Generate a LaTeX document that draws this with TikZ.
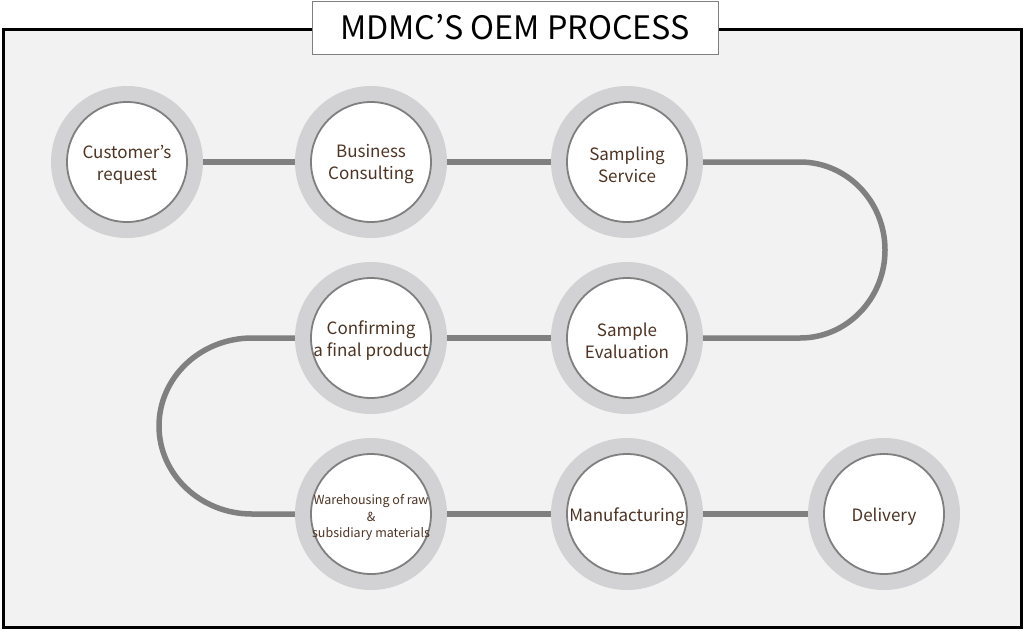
\documentclass[tikz,border=0pt]{standalone}
\usepackage{fontspec}
\setmainfont{Noto Sans CJK KR}
\begin{document}
\begin{tikzpicture}[x=1pt,y=-1pt,
  ring/.style={circle,minimum size=152pt,inner sep=0pt,fill=ringgray,draw=none},
  disc/.style={circle,minimum size=120pt,inner sep=0pt,fill=white,draw=discline,line width=1.8pt},
  lbl/.style={text=labelbrown,align=center,inner sep=0pt,yshift=-2.5pt,font=\fontsize{17}{22}\selectfont},
  smalllbl/.style={lbl,yshift=-1pt,font=\fontsize{12.5}{16.5}\selectfont},
  conn/.style={draw=connline,line width=5.5pt}]
\definecolor{ringgray}{HTML}{D2D2D4}
\definecolor{discline}{HTML}{7F7F7F}
\definecolor{connline}{HTML}{808080}
\definecolor{labelbrown}{HTML}{4E3424}
\definecolor{bg}{HTML}{F2F2F2}
\useasboundingbox (0,0) rectangle (1024,630);
\fill[white] (0,0) rectangle (1024,630);
\draw[fill=bg,line width=3pt] (3,29) rectangle (1021,627);
% rings
\node[ring] (r1) at (127,162) {};
\node[ring] (r2) at (371,162) {};
\node[ring] (r3) at (627,162) {};
\node[ring] (r4) at (627,338) {};
\node[ring] (r5) at (371,338) {};
\node[ring] (r6) at (371,514) {};
\node[ring] (r7) at (627,514) {};
\node[ring] (r8) at (884,514) {};
% discs
\foreach \i in {1,...,8} {\node[disc] (d\i) at (r\i) {};}
% labels
\node[lbl] (t1) at (r1) {Customer’s\\request};
\node[lbl] (t2) at (r2) {Business\\Consulting};
\node[lbl] (t3) at (r3) {Sampling\\Service};
\node[lbl] (t4) at (r4) {Sample\\Evaluation};
\node[lbl] (t5) at (r5) {Confirming\\a final product};
\node[smalllbl] (t6) at (r6) {Warehousing of raw\\\&\\subsidiary materials};
\node[lbl] (t7) at (r7) {Manufacturing};
\node[lbl] (t8) at (r8) {Delivery};
% connectors
\draw[conn] (r1) -- (r2);
\draw[conn] (r2) -- (r3);
\draw[conn] (r3.east) -- (800,162) arc[start angle=-90,end angle=90,x radius=85,y radius=88] -- (r4.east);
\draw[conn] (r4) -- (r5);
\draw[conn] (r5.west) -- (252,338) arc[start angle=-90,end angle=-270,x radius=93,y radius=88] -- (r6.west);
\draw[conn] (r6) -- (r7);
\draw[conn] (r7) -- (r8);
% title
\node[draw=discline,line width=0.8pt,fill=white,minimum width=406pt,minimum height=53pt,inner sep=0pt,
  font=\fontsize{32.3}{38}\selectfont,text=black] (title) at (515,27.5) {MDMC’S OEM PROCESS};
\end{tikzpicture}
\end{document}
